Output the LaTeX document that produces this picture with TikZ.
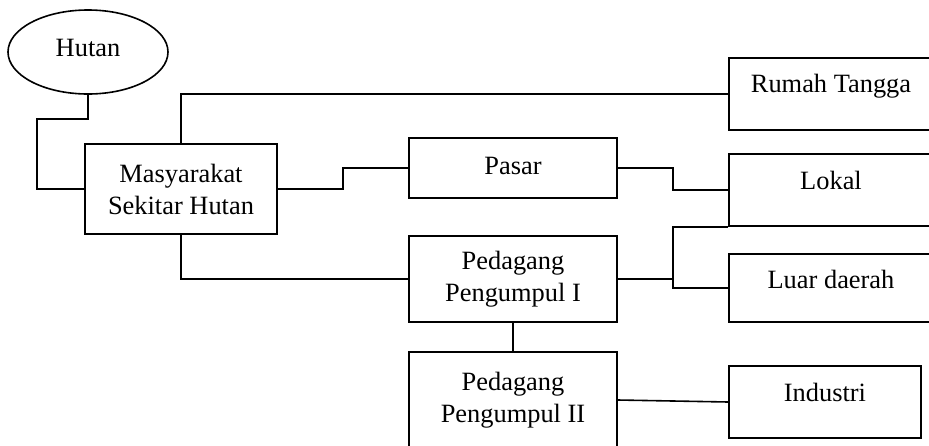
\documentclass[tikz,border=0pt]{standalone}
\usepackage{fontspec}
\setmainfont{Liberation Serif}
\usetikzlibrary{positioning, shapes.geometric}

\tikzset{
  box/.style={draw, rectangle, line width=1.6pt, align=center, inner sep=0pt,
    font=\fontsize{26.4}{32}\selectfont},
  link/.style={line width=1.6pt}
}

\begin{document}
\begin{tikzpicture}[x=1pt, y=-1pt]
    \useasboundingbox (0,0) rectangle (929,445);

    % Draw nodes
    \node[draw, ellipse, line width=1.6pt, minimum width=160pt, minimum height=84pt,
      inner sep=0pt, font=\fontsize{26.4}{32}\selectfont, text depth=9pt] (hutan) at (88,52) {Hutan};
    \node[box, minimum width=192pt, minimum height=90pt] (masy) at (181,189) {Masyarakat\\Sekitar Hutan};
    \node[box, minimum width=204pt, minimum height=72pt, text depth=22pt] (rumah) at (831,94) {Rumah Tangga};
    \node[box, minimum width=208pt, minimum height=60pt, text depth=5pt] (pasar) at (513,168) {Pasar};
    \node[box, minimum width=204pt, minimum height=72pt, text depth=20pt] (lokal) at (831,190) {Lokal};
    \node[box, minimum width=208pt, minimum height=86pt] (p1) at (513,279) {Pedagang\\Pengumpul I};
    \node[box, minimum width=204pt, minimum height=68pt, text depth=18pt] (luar) at (831,288) {Luar daerah};
    \node[box, minimum width=208pt, minimum height=96pt] (p2) at (513,400) {Pedagang\\Pengumpul II};
    \node[box, minimum width=192pt, minimum height=72pt, text depth=19pt] (industri) at (825,402) {Industri};

    % Draw connectors
    \coordinate (j1) at (37,119);
    \coordinate (j2) at (343,168);
    \coordinate (j3) at (673,190);
    \coordinate (j4) at (673,279);
    \draw[link] (hutan.south) |- (j1) |- (masy.west);
    \draw[link] (masy.north) |- (rumah.west);
    \draw[link] (masy.east) -| (j2) -- (pasar.west);
    \draw[link] (masy.south) |- (p1.west);
    \draw[link] (pasar.east) -| (j3) -- (lokal.west);
    \draw[link] (p1.east) -- (j4);
    \draw[link] (lokal.south west) -| (j4) |- (luar.west);
    \draw[link] (p1.south) -- (p2.north);
    \draw[link] (p2.east) -- (industri.west);

\end{tikzpicture}
\end{document}
